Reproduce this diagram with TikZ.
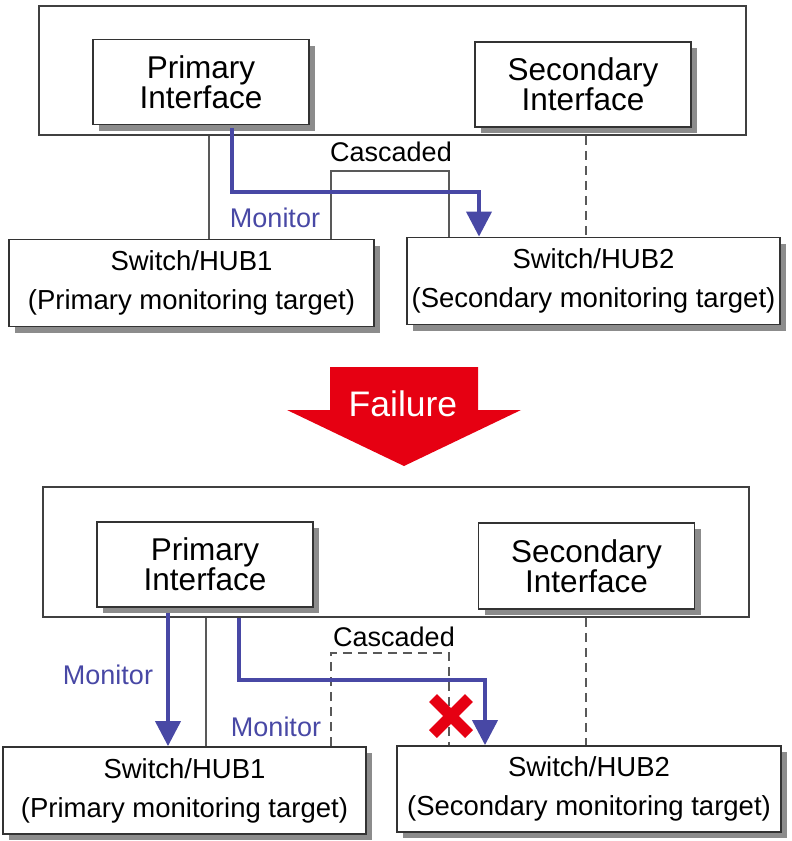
\documentclass[tikz,border=0pt]{standalone}
\usepackage{fontspec}
\setmainfont{Liberation Sans}
\usetikzlibrary{arrows.meta,shadows}
\definecolor{monblue}{RGB}{72,72,165}
\definecolor{failred}{RGB}{230,0,18}

\tikzset{
    hostbox/.style={draw=black!75, line width=1.6pt, inner sep=0pt},
    ifbox/.style={draw=black!80, line width=1.8pt, fill=white, inner sep=0pt, align=center,
        minimum width=216pt, minimum height=85pt,
        drop shadow={shadow xshift=6pt, shadow yshift=-6pt, fill=black!45, opacity=1},
        font=\fontsize{31.5}{30}\selectfont},
    hubbox/.style={draw=black!80, line width=1.8pt, fill=white, inner sep=0pt, align=center,
        minimum height=87pt,
        drop shadow={shadow xshift=6pt, shadow yshift=-6pt, fill=black!45, opacity=1},
        font=\fontsize{27.5}{39}\selectfont},
    link/.style={draw=black!65, line width=1.7pt},
    dashlink/.style={link, dash pattern=on 9pt off 6pt},
    monitor/.style={draw=monblue, line width=4pt, -{Triangle[width=25pt,length=25pt]}},
    lbl/.style={font=\fontsize{27}{32}\selectfont, inner sep=0pt},
    cross/.style={draw=failred, line width=11pt},
}

\begin{document}
\begin{tikzpicture}[x=1pt, y=-1pt]
    \useasboundingbox (0,0) rectangle (792,841);

    % --- Top: normal operation ---
    \begin{scope}
        \node[hostbox, minimum width=707pt, minimum height=129pt] (hostA) at (392.5,70.5) {};
        \node[ifbox] (priA) at (201,82) {Primary\\Interface};
        \node[ifbox] (secA) at (583,84.5) {Secondary\\Interface};
        \node[hubbox, minimum width=365pt] (hub1A) at (191.5,283) {Switch/HUB1\\(Primary monitoring target)};
        \node[hubbox, minimum width=373pt] (hub2A) at (593.5,281) {Switch/HUB2\\(Secondary monitoring target)};

        % x positions of the vertical lines
        \coordinate (upA) at (209,0);
        \coordinate (dashA) at (586,0);
        \coordinate (casLA) at (331,171);
        \coordinate (casRA) at (449,171);
        \coordinate (turnA) at (479,192);

        \draw[link] (upA |- hostA.south) -- (upA |- hub1A.north);
        \draw[dashlink] (dashA |- hostA.south) -- (dashA |- hub2A.north);
        \draw[link] (casLA |- hub1A.north) |- (casRA) -- (casRA |- hub2A.north);
        \draw[monitor] ([xshift=31pt,yshift=-3pt]priA.south) |- (turnA) -- (turnA |- hub2A.north);

        \node[lbl] (casA) at (391,152) {Cascaded};
        \node[lbl, text=monblue] (monA) at (275,218) {Monitor};
    \end{scope}

    % --- Middle: failure arrow ---
    \fill[failred] (330,367) -- (478,367) -- (478,410) -- (521,410) -- (404,466)
        -- (287,410) -- (330,410) -- cycle;
    \node[lbl, text=white, font=\fontsize{35.5}{34}\selectfont] (failLbl) at (403,404) {Failure};

    % --- Bottom: after failure ---
    \begin{scope}
        \node[hostbox, minimum width=706pt, minimum height=130pt] (hostB) at (396,552) {};
        \node[ifbox] (priB) at (205,564.5) {Primary\\Interface};
        \node[ifbox, minimum height=86pt] (secB) at (586.5,566) {Secondary\\Interface};
        \node[hubbox, minimum width=363pt] (hub1B) at (184.5,790.5) {Switch/HUB1\\(Primary monitoring target)};
        \node[hubbox, minimum width=384pt, minimum height=86pt] (hub2B) at (589,789) {Switch/HUB2\\(Secondary monitoring target)};

        % x positions of the vertical lines
        \coordinate (monB) at (168,0);
        \coordinate (upB) at (206,0);
        \coordinate (startB) at (239,0);
        \coordinate (dashB) at (586,0);
        \coordinate (casLB) at (331,653);
        \coordinate (casRB) at (449,653);
        \coordinate (turnB) at (485,680);
        \coordinate (brkB) at (451,716);

        \draw[link] (upB |- hostB.south) -- (upB |- hub1B.north);
        \draw[dashlink] (dashB |- hostB.south) -- (dashB |- hub2B.north);
        \draw[dashlink] (casLB |- hub1B.north) |- (casRB) -- (casRB |- hub2B.north);
        \draw[monitor] ([yshift=-5pt]monB |- priB.south) -- (monB |- hub1B.north);
        \draw[monitor] (startB |- hostB.south) |- (turnB) -- (turnB |- hub2B.north);

        \draw[cross] ([shift={(-18,-18)}]brkB) -- ([shift={(18,18)}]brkB);
        \draw[cross] ([shift={(-18,18)}]brkB) -- ([shift={(18,-18)}]brkB);

        \node[lbl] (casB) at (394,637) {Cascaded};
        \node[lbl, text=monblue] (monB1) at (108,675) {Monitor};
        \node[lbl, text=monblue] (monB2) at (276,727) {Monitor};
    \end{scope}
\end{tikzpicture}
\end{document}
